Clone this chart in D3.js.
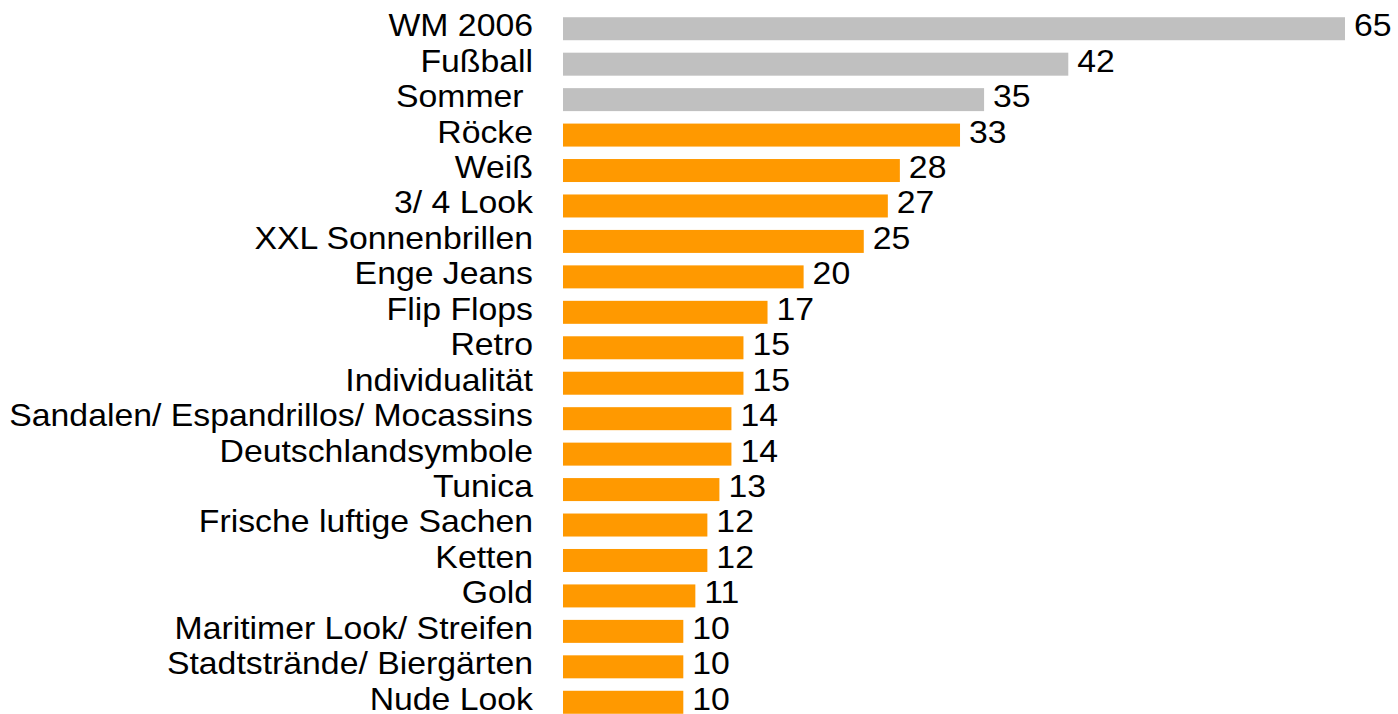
<!DOCTYPE html>
<html>
<head>
<meta charset="utf-8">
<script src="https://cdn.jsdelivr.net/npm/d3@7"></script>
<style>
  body { margin: 0; background: #fff; overflow: hidden; }
  text { font-family: "Liberation Sans", Arial, sans-serif; font-size: 31px; fill: #000; white-space: pre; }
</style>
</head>
<body>
<svg class="chart"></svg>
<script>
const labels = [
  'WM 2006', 'Fußball', 'Sommer ', 'Röcke', 'Weiß', '3/ 4 Look', 'XXL Sonnenbrillen',
  'Enge Jeans', 'Flip Flops', 'Retro', 'Individualität', 'Sandalen/ Espandrillos/ Mocassins',
  'Deutschlandsymbole', 'Tunica', 'Frische luftige Sachen', 'Ketten', 'Gold',
  'Maritimer Look/ Streifen', 'Stadtstrände/ Biergärten', 'Nude Look'
]
const values = [65, 42, 35, 33, 28, 27, 25, 20, 17, 15, 15, 14, 14, 13, 12, 12, 11, 10, 10, 10]
const highlighted = [true, true, true, false, false, false, false, false, false, false,
  false, false, false, false, false, false, false, false, false, false]

const width = 1398
const height = 714
const left = 563
// the source font is set a little wide
const stretch = 1.09

const chart = d3.select('.chart')
  .attr('width', width)
  .attr('height', height)

const xScale = d3.scaleLinear()
  .domain([0, 65])
  .range([left, 1345])

const inner = 1 - 23 / 35.46
const yScale = d3.scaleBand()
  .domain(labels)
  .range([11, 720])
  .paddingInner(inner)
  .paddingOuter(inner / 2)

const rows = chart.append('g')
  .selectAll('g')
  .data(labels)
  .enter()
  .append('g')
  .attr('transform', d => `translate(0,${yScale(d)})`)

rows.append('rect')
  .attr('x', xScale(0))
  .attr('width', (d, i) => xScale(values[i]) - xScale(0))
  .attr('height', yScale.bandwidth())
  .attr('fill', (d, i) => (highlighted[i] ? '#c0c0c0' : '#ff9900'))

rows.append('g')
  .attr('transform', `translate(${left - 30},${yScale.bandwidth() / 2}) scale(${stretch},1)`)
  .append('text')
  .attr('dy', '0.24em')
  .attr('text-anchor', 'end')
  .text(d => d)

rows.append('g')
  .attr('transform', (d, i) => `translate(${xScale(values[i]) + 9},${yScale.bandwidth() / 2}) scale(${stretch},1)`)
  .append('text')
  .attr('dy', '0.24em')
  .text((d, i) => values[i])
</script>
</body>
</html>
